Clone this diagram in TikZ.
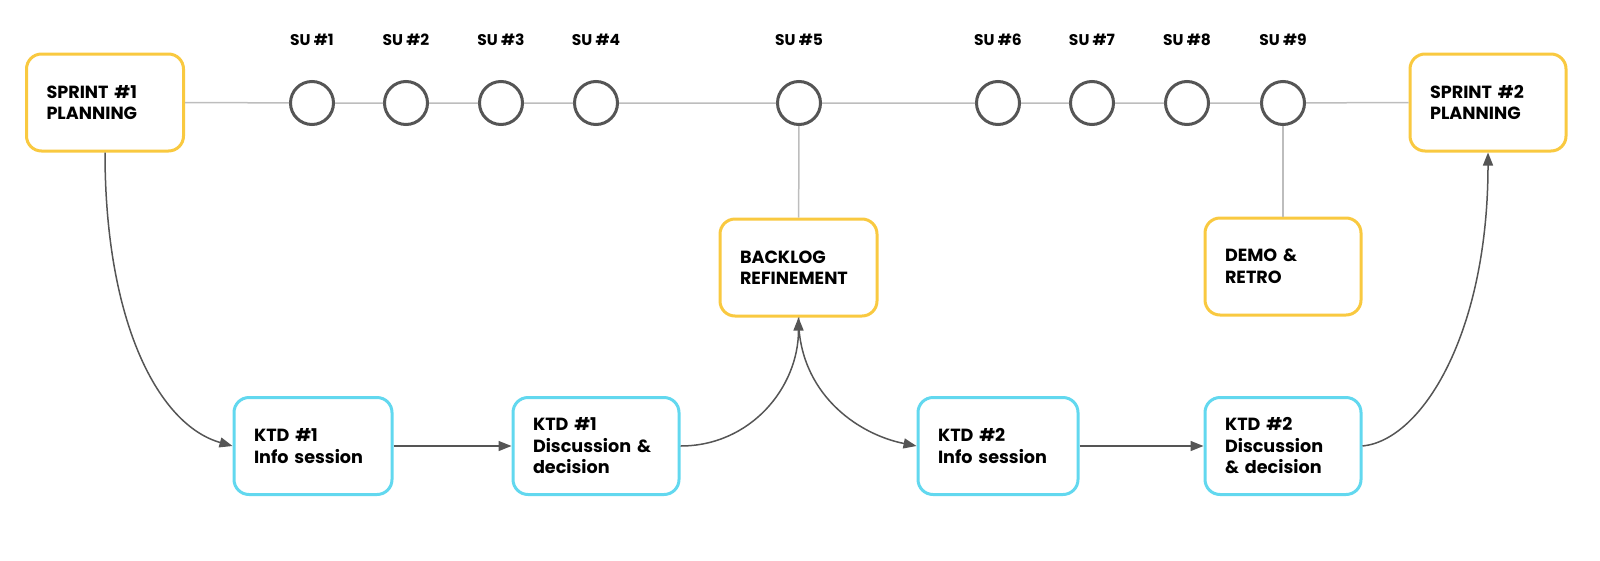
\documentclass[tikz,border=0pt]{standalone}
\usepackage{fontspec}
\setmainfont{Poppins}[BoldFont={* Bold}]
\usetikzlibrary{arrows.meta}
\definecolor{ylw}{HTML}{F9C940}
\definecolor{cyn}{HTML}{62D8EF}
\definecolor{dgray}{HTML}{555555}
\definecolor{lgray}{HTML}{BDBDBD}
\begin{document}
\begin{tikzpicture}[x=1pt,y=1pt,
  box/.style={draw, line width=3pt, rounded corners=15pt, fill=white,
    minimum height=97pt, inner xsep=20pt, inner ysep=0pt, align=left,
    font=\fontsize{17.6}{21.5}\selectfont\bfseries},
  ybox/.style={box, draw=ylw},
  cbox/.style={box, draw=cyn},
  su/.style={circle, draw=dgray, line width=3pt, minimum size=43pt, inner sep=0pt, fill=white},
  sulab/.style={font=\fontsize{15.5}{17}\selectfont\bfseries, inner sep=0pt},
  tline/.style={draw=lgray, line width=1.5pt},
  flow/.style={draw=dgray, line width=1.5pt, -{Triangle[length=13pt,width=10pt]}}
]
\useasboundingbox (0,0) rectangle (1600,-560);
% timeline boxes
\node[ybox, text width=117pt] (sp1) at (105,-102.5) {SPRINT \#1\\PLANNING};
\node[ybox, text width=116pt] (sp2) at (1488,-102.5) {SPRINT \#2\\PLANNING};
% stand-ups
\foreach \i/\x in {1/312,2/406,3/501,4/596,5/799,6/998,7/1092,8/1187,9/1283}{
  \node[su] (su\i) at (\x,-103) {};
  \node[sulab] (sul\i) at (\x,-40) {SU \#\i};
}
% timeline
\path[tline] (sp1.east) -- (su1) -- (su2) -- (su3) -- (su4) -- (su5) -- (su6) -- (su7) -- (su8) -- (su9) -- (sp2.west);
% events
\node[ybox, text width=117pt] (bl) at (798.5,-267.5) {BACKLOG\\REFINEMENT};
\node[ybox, text width=116pt] (demo) at (1283,-266.5) {DEMO \&\\RETRO};
\draw[tline] (su5) -- (bl);
\draw[tline] (su9) -- (demo);
% KTDs
\node[cbox, text width=118pt] (k1i) at (313,-446) {KTD \#1\\Info session};
\node[cbox, text width=126pt] (k1d) at (596,-446) {KTD \#1\\Discussion \&\\decision};
\node[cbox, text width=120pt] (k2i) at (998,-446) {KTD \#2\\Info session};
\node[cbox, text width=116pt] (k2d) at (1283,-446) {KTD \#2\\Discussion\\\& decision};
% flows
\draw[flow] (sp1.south) .. controls ([yshift=-170pt]sp1.south) and ([xshift=-74pt,yshift=21pt]k1i.west) .. (k1i.west);
\draw[flow] (k1i.east) -- (k1d.west);
\draw[flow] (k1d.east) .. controls ([xshift=70pt]k1d.east) and ([yshift=-70pt]bl.south) .. (bl.south);
\draw[flow] (bl.south) .. controls ([yshift=-75pt]bl.south) and ([xshift=-60pt,yshift=12pt]k2i.west) .. (k2i.west);
\draw[flow] (k2i.east) -- (k2d.west);
\draw[flow] (k2d.east) .. controls ([xshift=60pt,yshift=6pt]k2d.east) and ([yshift=-180pt]sp2.south) .. (sp2.south);
\end{tikzpicture}
\end{document}
